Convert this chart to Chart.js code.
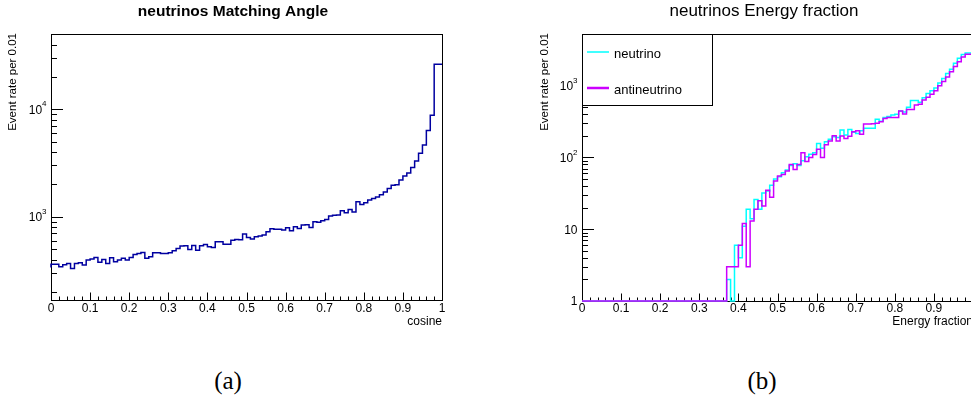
<!DOCTYPE html>
<html>
<head>
<meta charset="utf-8">
<script src="https://cdn.jsdelivr.net/npm/chart.js@4/dist/chart.umd.min.js"></script>
<style>
  html, body { margin: 0; padding: 0; background: #fff; }
  body { width: 971px; height: 407px; overflow: hidden; position: relative; }
  canvas { position: absolute; top: 0; }
  #angle { left: 0; }
  #energy { left: 490px; }
  .cap { position: absolute; top: 367px; width: 80px; text-align: center;
         font: 25px "Liberation Serif", "Times New Roman", serif; color: #000; }
</style>
</head>
<body>
<canvas id="angle" width="485" height="340"></canvas>
<canvas id="energy" width="520" height="340"></canvas>
<div class="cap" style="left:188px">(a)</div>
<div class="cap" style="left:722px">(b)</div>
<script>
// two ROOT-style histograms, 100 bins of 0.01 on [0,1], log y

const NBINS = 100;
const binEdges = Array.from({ length: NBINS + 1 }, (_, i) => i / NBINS);

// (a) matching angle, event rate per 0.01 in cosine
const cosineRate = [
  337, 362, 362, 342, 357, 367, 330, 367, 373, 355,
  395, 405, 418, 378, 400, 367, 415, 381, 395, 410,
  395, 418, 446, 455, 465, 410, 424, 462, 462, 455,
  455, 462, 482, 507, 533, 536, 497, 541, 489, 536,
  552, 525, 518, 585, 585, 556, 556, 606, 615, 610,
  690, 641, 620, 651, 661, 675, 725, 773, 766, 766,
  751, 789, 741, 807, 778, 836, 844, 796, 898, 889,
  918, 944, 1015, 1030, 1037, 1137, 1089, 1170, 1110, 1380,
  1303, 1350, 1430, 1480, 1530, 1600, 1700, 1830, 1960, 1980,
  2200, 2400, 2550, 2870, 3300, 3890, 4650, 6350, 8800, 26300
];

// (b) energy fraction, empty bins sit on the axis minimum (1)
const neutrinoRate = [
  1, 1, 1, 1, 1, 1, 1, 1, 1, 1,
  1, 1, 1, 1, 1, 1, 1, 1, 1, 1,
  1, 1, 1, 1, 1, 1, 1, 1, 1, 1,
  1, 1, 1, 1, 1, 1, 1, 1, 2, 1,
  6, 4, 11, 19, 14, 26, 19, 32, 34, 41,
  50, 54, 61, 67, 77, 82, 77, 90, 102, 111,
  116, 157, 134, 166, 179, 195, 190, 242, 205, 246,
  225, 215, 235, 255, 255, 255, 340, 320, 360, 372,
  390, 400, 445, 430, 500, 620, 620, 590, 680, 780,
  850, 930, 1090, 1260, 1480, 1700, 2050, 2420, 2720, 2850
];
const antineutrinoRate = [
  1, 1, 1, 1, 1, 1, 1, 1, 1, 1,
  1, 1, 1, 1, 1, 1, 1, 1, 1, 1,
  1, 1, 1, 1, 1, 1, 1, 1, 1, 1,
  1, 1, 1, 1, 1, 1, 1, 1, 3, 3,
  3, 6, 12, 3, 13, 19, 25, 21, 35, 28,
  47, 55, 58, 65, 80, 68, 80, 116, 88, 100,
  110, 130, 100, 150, 170, 200, 170, 199, 184, 197,
  228, 235, 211, 292, 292, 296, 300, 315, 350, 360,
  360, 360, 445, 404, 467, 467, 536, 550, 630, 690,
  760, 850, 1000, 1140, 1320, 1570, 1850, 2160, 2520, 2750
];

const angleXTickLabels = ['0', '0.1', '0.2', '0.3', '0.4', '0.5', '0.6', '0.7', '0.8', '0.9', '1'];
const energyXTickLabels = ['0', '0.1', '0.2', '0.3', '0.4', '0.5', '0.6', '0.7', '0.8', '0.9'];
const angleYTicks = [1e3, 1e4];
const angleYTickLabels = [['10', '3'], ['10', '4']];
const energyYTicks = [1, 10, 100, 1000];
const energyYTickLabels = [['1', ''], ['10', ''], ['10', '2'], ['10', '3']];

const SANS = '"Liberation Sans", Arial, Helvetica, sans-serif';

function histPoints(values) {
  const pts = values.map((v, i) => ({ x: binEdges[i], y: v }));
  pts.push({ x: binEdges[values.length], y: values[values.length - 1] });
  return pts;
}

// order: lower is painted later (on top), like the second Draw("same") in ROOT
function histDataset(label, values, color, width, order) {
  return {
    label, data: histPoints(values), stepped: 'after', order,
    borderColor: color, borderWidth: width, pointRadius: 0, fill: false,
    clip: 2,
  };
}

// frame, inward ticks, labels and titles the way ROOT draws them
function rootPad(o) {
  return {
    id: 'rootPad',
    beforeDatasetsDraw(chart) {
      const { ctx, chartArea: a, scales: { x, y } } = chart;
      ctx.save();
      ctx.strokeStyle = '#000';
      ctx.lineWidth = 1;
      ctx.strokeRect(Math.round(a.left) + .5, Math.round(a.top) + .5,
                     Math.round(a.width), Math.round(a.height));
      ctx.beginPath();
      for (let k = 0; k <= 50; k++) {
        const px = Math.round(x.getPixelForValue(k / 50)) + .5;
        const len = k % 5 === 0 ? 7.5 : 3.5;
        ctx.moveTo(px, a.bottom); ctx.lineTo(px, a.bottom - len);
      }
      const lo = Math.floor(Math.log10(y.min)), hi = Math.ceil(Math.log10(y.max));
      for (let e = lo; e <= hi; e++) {
        for (let m = 1; m <= 9; m++) {
          const v = m * Math.pow(10, e);
          if (v < y.min || v > y.max) continue;
          const py = Math.round(y.getPixelForValue(v)) + .5;
          ctx.moveTo(a.left, py); ctx.lineTo(a.left + (m === 1 ? 12 : 6), py);
        }
      }
      ctx.stroke();
      ctx.restore();
    },
    afterDraw(chart) {
      const { ctx, chartArea: a, scales: { x, y } } = chart;
      ctx.save();
      ctx.fillStyle = '#000';
      // x tick labels
      ctx.font = '12px ' + SANS;
      ctx.textAlign = 'center';
      ctx.textBaseline = 'alphabetic';
      for (const t of o.xLabels) ctx.fillText(t, x.getPixelForValue(parseFloat(t)), 312);
      // y tick labels, superscript exponent
      ctx.textBaseline = 'middle';
      o.yTicks.forEach((v, i) => {
        const [base, exp] = o.yLabels[i];
        const py = y.getPixelForValue(v);
        let right = a.left - 4.5;
        ctx.textAlign = 'right';
        if (exp) {
          ctx.font = '8px ' + SANS;
          ctx.fillText(exp, right, py - 5);
          right -= ctx.measureText(exp).width;
        }
        ctx.font = '12px ' + SANS;
        ctx.fillText(base, right, py + 1);
      });
      // axis titles
      ctx.font = '12px ' + SANS;
      ctx.textAlign = 'right';
      ctx.textBaseline = 'alphabetic';
      ctx.fillText(o.xTitle, a.right, 325);
      ctx.save();
      ctx.font = '11.5px ' + SANS;
      ctx.translate(o.yTitleX, a.top - 1);
      ctx.rotate(-Math.PI / 2);
      ctx.textAlign = 'right';
      ctx.textBaseline = 'middle';
      ctx.fillText('Event rate per 0.01', 0, 0);
      ctx.restore();
      // title
      ctx.font = o.titleFont;
      ctx.textAlign = 'center';
      ctx.fillText(o.title, o.titleX, 16);
      // legend box
      if (o.legend) {
        const L = o.legend;
        ctx.fillStyle = '#fff';
        ctx.fillRect(L.x, L.y, L.w, L.h);
        ctx.strokeStyle = '#000';
        ctx.lineWidth = 1;
        ctx.strokeRect(L.x + .5, L.y + .5, L.w, L.h);
        ctx.font = '13px ' + SANS;
        ctx.textAlign = 'left';
        ctx.textBaseline = 'alphabetic';
        chart.data.datasets.forEach((ds, i) => {
          const ly = L.y + 18 + i * 36;
          ctx.strokeStyle = ds.borderColor;
          ctx.lineWidth = i === 0 ? 1.5 : 2.5;
          ctx.beginPath();
          ctx.moveTo(L.x + 5, ly); ctx.lineTo(L.x + 27, ly);
          ctx.stroke();
          ctx.fillStyle = '#000';
          ctx.fillText(ds.label, L.x + 32, ly + 6);
        });
      }
      ctx.restore();
    },
  };
}

function makeHist(id, datasets, yMin, yMax, pad, o) {
  return new Chart(document.getElementById(id), {
    type: 'line',
    data: { datasets },
    options: {
      responsive: false, animation: false, devicePixelRatio: 1,
      layout: { padding: pad },
      scales: {
        x: { type: 'linear', min: 0, max: 1, display: false },
        y: { type: 'logarithmic', min: yMin, max: yMax, display: false },
      },
      plugins: { legend: { display: false }, tooltip: { enabled: false } },
    },
    plugins: [rootPad(o)],
  });
}

makeHist('angle',
  [histDataset('cosine', cosineRate, '#0000a0', 1.5, 0)],
  168, 50200,
  { left: 51, top: 34, right: 43, bottom: 40 },
  { xLabels: angleXTickLabels, yTicks: angleYTicks, yLabels: angleYTickLabels,
    xTitle: 'cosine', yTitleX: 13, title: 'neutrinos Matching Angle',
    titleX: 233, titleFont: 'bold 15.5px ' + SANS });

makeHist('energy',
  [histDataset('neutrino', neutrinoRate, '#00ffff', 1.5, 1),
   histDataset('antineutrino', antineutrinoRate, '#cc00ff', 1.5, 0)],
  1, 5250,
  { left: 92, top: 34, right: 37, bottom: 39 },
  { xLabels: energyXTickLabels, yTicks: energyYTicks, yLabels: energyYTickLabels,
    xTitle: 'Energy fraction', yTitleX: 55, title: 'neutrinos Energy fraction',
    titleX: 274, titleFont: '17px ' + SANS,
    legend: { x: 92, y: 34, w: 130, h: 71 } });
</script>
</body>
</html>
